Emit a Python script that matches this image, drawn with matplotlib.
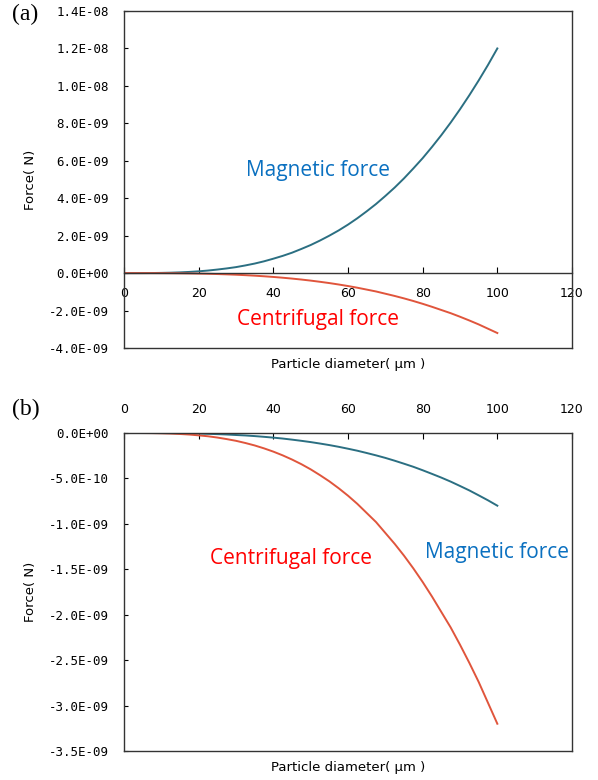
import matplotlib
matplotlib.use("Agg")
import matplotlib.pyplot as plt
from matplotlib.ticker import FuncFormatter

# particle diameter (um) and forces (units of 1e-9 N)
diameter = [0, 2.5, 5, 7.5, 10, 12.5, 15, 17.5, 20, 22.5, 25, 27.5, 30,
            32.5, 35, 37.5, 40, 42.5, 45, 47.5, 50, 52.5, 55, 57.5, 60,
            62.5, 65, 67.5, 70, 72.5, 75, 77.5, 80, 82.5, 85, 87.5, 90,
            92.5, 95, 97.5, 100]

mag_a = [0, 0.0002, 0.0015, 0.005, 0.012, 0.023, 0.04, 0.064, 0.096, 0.137,
         0.19, 0.25, 0.32, 0.41, 0.51, 0.63, 0.77, 0.92, 1.09, 1.29, 1.5,
         1.74, 2.0, 2.28, 2.59, 2.93, 3.3, 3.69, 4.12, 4.57, 5.06, 5.59,
         6.14, 6.74, 7.37, 8.04, 8.75, 9.5, 10.29, 11.12, 12.0]
cen_a = [0, -0.00005, -0.0004, -0.0013, -0.0032, -0.006, -0.011, -0.017,
         -0.026, -0.036, -0.05, -0.067, -0.086, -0.11, -0.137, -0.169,
         -0.205, -0.246, -0.292, -0.343, -0.40, -0.464, -0.532, -0.608,
         -0.69, -0.78, -0.88, -0.98, -1.10, -1.22, -1.35, -1.49, -1.64,
         -1.80, -1.97, -2.14, -2.33, -2.53, -2.74, -2.97, -3.2]

mag_b = [0, 0, -0.0001, -0.0003, -0.0008, -0.0016, -0.0027, -0.0043,
         -0.0064, -0.0091, -0.0125, -0.0166, -0.022, -0.027, -0.034, -0.042,
         -0.051, -0.061, -0.073, -0.086, -0.10, -0.116, -0.133, -0.152,
         -0.173, -0.195, -0.22, -0.246, -0.274, -0.305, -0.338, -0.372,
         -0.41, -0.45, -0.491, -0.535, -0.583, -0.632, -0.686, -0.741, -0.80]
cen_b = cen_a

x_ticks = [0, 20, 40, 60, 80, 100, 120]
y_ticks_a = [-4e-9, -2e-9, 0, 2e-9, 4e-9, 6e-9, 8e-9, 1e-8, 1.2e-8, 1.4e-8]
y_ticks_b = [-3.5e-9, -3e-9, -2.5e-9, -2e-9, -1.5e-9, -1e-9, -5e-10, 0]

MAG_LINE = "#2b6f82"
CEN_LINE = "#e0553c"
MAG_TEXT = "#0a70c0"
CEN_TEXT = "#ff0000"
FRAME = "#333333"

TICK_FONT = "DejaVu Sans Mono"
LABEL_FONT = "DejaVu Sans"
NOTE_FONT = "Open Sans"
sci = FuncFormatter(lambda v, p: f"{v:.1E}")

fig = plt.figure(figsize=(5.98, 7.8), dpi=100)
ax_a = fig.add_axes([124 / 598, 1 - 348 / 780, 448 / 598, 337 / 780])
ax_b = fig.add_axes([124 / 598, 1 - 751 / 780, 448 / 598, 318 / 780])


def style(ax, yticks):
    ax.set_xlim(0, 120)
    ax.set_xticks(x_ticks)
    ax.set_yticks(yticks)
    ax.yaxis.set_major_formatter(sci)
    for s in ax.spines.values():
        s.set_linewidth(1.0)
        s.set_color(FRAME)
    ax.tick_params(axis="y", direction="in", length=3, pad=11, labelsize=9)
    ax.tick_params(axis="x", direction="in", length=4, labelsize=9)
    for lab in ax.get_xticklabels() + ax.get_yticklabels():
        lab.set_family(TICK_FONT)
    ax.set_ylabel("Force( N)", family=LABEL_FONT, fontsize=9.5)
    ax.yaxis.set_label_coords(-0.195, 0.5)


# ---- (a)
ax_a.plot(diameter, [v * 1e-9 for v in mag_a], color=MAG_LINE, lw=1.4)
ax_a.plot(diameter, [v * 1e-9 for v in cen_a], color=CEN_LINE, lw=1.4)
ax_a.set_ylim(-4e-9, 1.4e-8)
style(ax_a, y_ticks_a)
ax_a.spines["bottom"].set_position(("data", 0))
ax_a.tick_params(axis="x", pad=10)
ax_a.plot([0, 1], [0, 0], transform=ax_a.transAxes, color=FRAME,
          lw=1.0, clip_on=False)
ax_a.set_xlabel("Particle diameter( μm )", family=LABEL_FONT, fontsize=9.5)
ax_a.xaxis.set_label_coords(0.5, -0.03)
ax_a.text(52, 5.5e-9, "Magnetic force", color=MAG_TEXT, fontsize=15,
          family=NOTE_FONT, ha="center", va="center")
ax_a.text(52, -2.46e-9, "Centrifugal force", color=CEN_TEXT, fontsize=15,
          family=NOTE_FONT, ha="center", va="center")
fig.text(12 / 598, 1 - 14 / 780, "(a)", family="Liberation Serif",
         fontsize=17, va="center")

# ---- (b)
ax_b.plot(diameter, [v * 1e-9 for v in mag_b], color=MAG_LINE, lw=1.4)
ax_b.plot(diameter, [v * 1e-9 for v in cen_b], color=CEN_LINE, lw=1.4)
ax_b.set_ylim(-3.5e-9, 0)
style(ax_b, y_ticks_b)
ax_b.xaxis.tick_top()
ax_b.tick_params(axis="x", pad=12)
ax_b.set_xlabel("Particle diameter( μm )", family=LABEL_FONT, fontsize=9.5)
ax_b.xaxis.set_label_position("bottom")
ax_b.xaxis.set_label_coords(0.5, -0.032)
ax_b.text(44.7, -1.376e-9, "Centrifugal force", color=CEN_TEXT, fontsize=15,
          family=NOTE_FONT, ha="center", va="center")
ax_b.text(100, -1.32e-9, "Magnetic force", color=MAG_TEXT, fontsize=15,
          family=NOTE_FONT, ha="center", va="center")
fig.text(12 / 598, 1 - 409 / 780, "(b)", family="Liberation Serif",
         fontsize=17, va="center")

fig.savefig("out.png", dpi=100)
